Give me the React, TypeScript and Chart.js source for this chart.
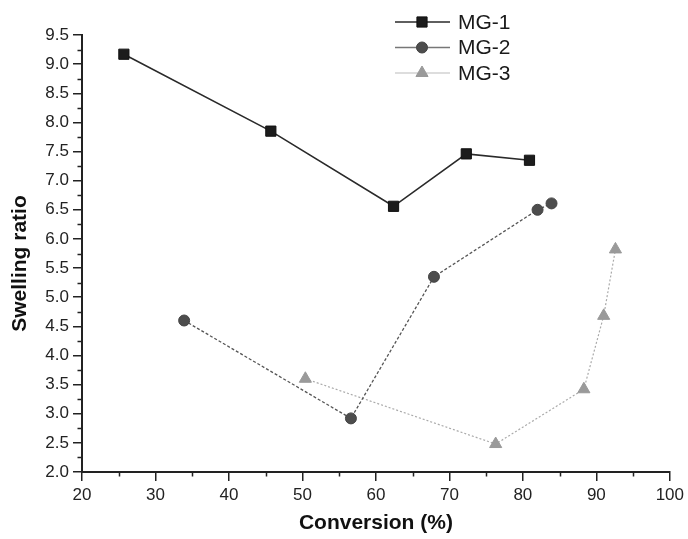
import { useEffect, useRef } from "react";
import { Chart, registerables } from "chart.js";
import { drawPoint } from "chart.js/helpers";

Chart.register(...registerables);

const seriesNames = ["MG-1", "MG-2", "MG-3"];
const xAxisTitle = "Conversion (%)";
const yAxisTitle = "Swelling ratio";
const conversionMG1 = [25.7, 45.7, 62.4, 72.3, 80.9];
const swellingMG1 = [9.17, 7.85, 6.56, 7.46, 7.35];
const conversionMG2 = [33.9, 56.6, 67.9, 82.0, 83.9];
const swellingMG2 = [4.6, 2.92, 5.35, 6.5, 6.61];
const conversionMG3 = [50.4, 76.3, 88.3, 91.0, 92.6];
const swellingMG3 = [3.6, 2.48, 3.42, 4.68, 5.82];
const xMinorTicks = [25, 35, 45, 55, 65, 75, 85, 95];
const yMinorTicks = [2.25, 2.75, 3.25, 3.75, 4.25, 4.75, 5.25, 5.75, 6.25, 6.75, 7.25, 7.75, 8.25, 8.75, 9.25];

const FONT = "'Liberation Sans', Arial, Helvetica, sans-serif";

const toPoints = (xs: number[], ys: number[]) => xs.map((x, i) => ({ x, y: ys[i] }));

const minorTicksPlugin = {
  id: "minorTicks",
  afterDraw(chart: any) {
    const { ctx, scales } = chart;
    const xs = scales.x;
    const ys = scales.y;
    ctx.save();
    ctx.strokeStyle = "#222";
    ctx.lineWidth = 1.5;
    ctx.beginPath();
    xMinorTicks.forEach((v) => {
      const px = Math.round(xs.getPixelForValue(v)) + 0.5;
      ctx.moveTo(px, xs.top);
      ctx.lineTo(px, xs.top + 4.5);
    });
    yMinorTicks.forEach((v) => {
      const py = Math.round(ys.getPixelForValue(v)) + 0.5;
      ctx.moveTo(ys.right, py);
      ctx.lineTo(ys.right - 4.5, py);
    });
    ctx.stroke();
    // y axis title
    ctx.fillStyle = "#111";
    ctx.font = `bold 21px ${FONT}`;
    ctx.textAlign = "center";
    ctx.textBaseline = "middle";
    ctx.translate(20, (ys.top + ys.bottom) / 2 + 10);
    ctx.rotate(-Math.PI / 2);
    ctx.fillText(yAxisTitle, 0, 0);
    ctx.restore();
  },
};

const lineLegendPlugin = {
  id: "lineLegend",
  afterDraw(chart: any) {
    const { ctx } = chart;
    ctx.save();
    chart.data.datasets.forEach((ds: any, i: number) => {
      const y = 22 + i * 25.5;
      ctx.setLineDash([]);
      ctx.strokeStyle = ds.legendLineColor;
      ctx.lineWidth = ds.borderWidth;
      ctx.beginPath();
      ctx.moveTo(395, y);
      ctx.lineTo(450, y);
      ctx.stroke();
      ctx.fillStyle = ds.pointBackgroundColor;
      ctx.strokeStyle = ds.pointBorderColor;
      ctx.lineWidth = ds.pointBorderWidth;
      drawPoint(ctx, { pointStyle: ds.pointStyle, radius: ds.pointRadius, rotation: 0, borderWidth: ds.pointBorderWidth }, 422, y);
      ctx.fillStyle = "#1a1a1a";
      ctx.font = `21px ${FONT}`;
      ctx.textBaseline = "middle";
      ctx.textAlign = "left";
      ctx.fillText(ds.label, 458, y + 1);
    });
    ctx.restore();
  },
};

export default function App() {
  const canvasRef = useRef<HTMLCanvasElement | null>(null);

  useEffect(() => {
    if (!canvasRef.current) return;
    const chart = new Chart(canvasRef.current, {
      type: "line",
      data: {
        datasets: [
          {
            label: seriesNames[0],
            data: toPoints(conversionMG1, swellingMG1),
            borderColor: "#2a2a2a",
            legendLineColor: "#2a2a2a",
            borderWidth: 1.6,
            pointStyle: "rect",
            pointRadius: 7.2,
            pointBackgroundColor: "#1c1c1c",
            pointBorderColor: "#111",
            pointBorderWidth: 1,
            tension: 0,
          } as any,
          {
            label: seriesNames[1],
            data: toPoints(conversionMG2, swellingMG2),
            borderColor: "#555",
            legendLineColor: "#777",
            borderWidth: 1.3,
            borderDash: [3, 2],
            pointStyle: "circle",
            pointRadius: 5.5,
            pointBackgroundColor: "#4d4d4d",
            pointBorderColor: "#444",
            pointBorderWidth: 1,
            tension: 0,
          } as any,
          {
            label: seriesNames[2],
            data: toPoints(conversionMG3, swellingMG3),
            borderColor: "#aaa",
            legendLineColor: "#bbb",
            borderWidth: 1.2,
            borderDash: [2, 2],
            pointStyle: "triangle",
            pointRadius: 7,
            pointBackgroundColor: "#9a9a9a",
            pointBorderColor: "#999",
            pointBorderWidth: 1,
            tension: 0,
          } as any,
        ],
      },
      options: {
        animation: false,
        responsive: false,
        maintainAspectRatio: false,
        layout: { padding: { top: 35, right: 16, left: 0, bottom: 0 } },
        plugins: {
          legend: { display: false },
          tooltip: { enabled: false },
        },
        scales: {
          x: {
            type: "linear",
            min: 20,
            max: 100,
            afterFit: (s: any) => {
              s.height = 67;
            },
            ticks: {
              stepSize: 10,
              color: "#222",
              padding: 4,
              font: { family: FONT, size: 17 },
              maxRotation: 0,
            },
            grid: {
              display: true,
              drawOnChartArea: false,
              drawTicks: true,
              tickLength: 9,
              color: "#222",
              lineWidth: 1.5,
            },
            border: { display: true, color: "#222", width: 2 },
            title: {
              display: true,
              text: xAxisTitle,
              color: "#111",
              font: { family: FONT, size: 21, weight: "bold" },
              padding: { top: 0, bottom: 3 },
            },
          },
          y: {
            type: "linear",
            min: 2,
            max: 9.5,
            afterFit: (s: any) => {
              s.width = 82;
            },
            ticks: {
              stepSize: 0.5,
              color: "#222",
              padding: 4,
              font: { family: FONT, size: 17 },
              callback: (v: any) => Number(v).toFixed(1),
            },
            grid: {
              display: true,
              drawOnChartArea: false,
              drawTicks: true,
              tickLength: 9,
              color: "#222",
              lineWidth: 1.5,
            },
            border: { display: true, color: "#222", width: 2 },
            title: { display: false },
          },
        },
      },
      plugins: [minorTicksPlugin, lineLegendPlugin],
    });
    return () => chart.destroy();
  }, []);

  return (
    <div style={{ position: "fixed", left: 0, top: 0, width: 688, height: 539, background: "#fff" }}>
      <canvas ref={canvasRef} width={688} height={539} style={{ width: 688, height: 539 }} />
    </div>
  );
}
